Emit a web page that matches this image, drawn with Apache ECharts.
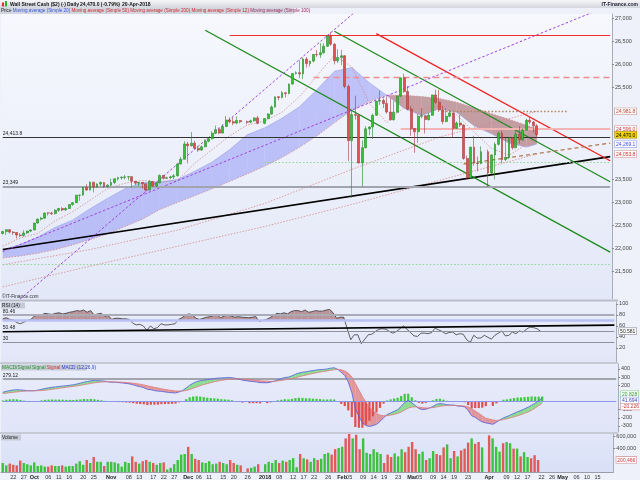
<!DOCTYPE html>
<html><head><meta charset="utf-8"><title>Wall Street Cash</title>
<script src="https://cdn.jsdelivr.net/npm/echarts@6.0.0/dist/echarts.min.js"></script>
<style>html,body{margin:0;padding:0;background:#fff;}#chart{width:640px;height:480px;}</style>
</head><body><div id="chart"></div>
<script>
// ================= DATA =================
const startDate = '2017-09-19';
const endDate = '2018-05-21';

// daily OHLC (Sep 19 2017 .. Apr 20 2018, weekdays; null = no session)
const openV = [
22330,22370,22412,22359,22349,22296,22284,22340,22381,
22405,22557,22641,22661,22775,22773,22761,22831,22872,22841,22871,22957,22997,23158,23163,23329,23274,23442,23330,23401,23434,23349,
23377,23436,23517,23539,23548,23557,23563,23462,23422,23439,23409,23271,23458,23358,23430,23590,23526,23540,23558,23580,23836,23940,
24272,24231,24290,24180,24140,24211,24329,24387,24504,24585,24509,24651,24792,24754,24726,24782,null,24754,24746,24774,24838,
null,24719,24824,24922,25075,25295,25283,25385,25369,25574,25803,25820,25792,26115,26017,26071,26214,26210,26252,26392,26616,26439,26076,
26149,26186,25520,24346,24912,24893,23860,24190,24601,24640,24893,25200,25219,25150,24964,24798,24962,25310,25709,25410,
25029,24608,24538,24874,24884,24801,24895,25336,25179,25008,24759,24873,24946,24611,24727,24683,23958,23533,24203,23857,23849,null,
24103,23644,24034,24264,24505,23933,23979,24408,24189,24483,24360,24573,24787,24748,24665];
const closeV = [
22370,22412,22359,22349,22296,22284,22340,22381,22405,
22557,22641,22661,22775,22773,22761,22831,22872,22841,22871,22957,22997,23158,23163,23329,23274,23442,23330,23401,23434,23349,23377,
23436,23517,23539,23548,23557,23563,23462,23422,23439,23409,23271,23458,23358,23430,23590,23526,23540,23558,23580,23836,23940,24272,
24231,24290,24180,24140,24211,24329,24387,24504,24585,24509,24651,24792,24754,24726,24782,24754,null,24746,24774,24838,24719,
null,24824,24922,25075,25295,25283,25385,25369,25574,25803,25820,25792,26115,26017,26071,26214,26210,26252,26392,26616,26439,26076,26149,
26186,25520,24346,24912,24893,23860,24190,24601,24640,24893,25200,25219,25150,24964,24798,24962,25310,25709,25410,25029,
24608,24538,24874,24884,24801,24895,25336,25179,25008,24759,24873,24946,24611,24727,24683,23958,23533,24203,23857,23849,24103,null,
23644,24034,24264,24505,23933,23979,24408,24189,24483,24360,24573,24787,24748,24665,24470];
const lowV = [
22310,22300,22330,22300,22220,22250,22260,22320,22360,
22400,22540,22610,22650,22720,22730,22740,22800,22810,22820,22860,22930,22990,23040,23150,23250,23260,23220,23320,23360,23320,23330,
23360,23400,23480,23500,23500,23480,23320,23380,23360,23300,23240,23270,23340,23340,23420,23500,23510,23510,23510,23570,23830,23940,
23850,24220,24160,24100,24120,24200,24310,24370,24490,24490,24500,24640,24720,24680,24700,24720,null,24700,24720,24760,24700,
null,24700,24810,24910,25060,25220,25260,25280,25350,25560,25780,25700,25680,25930,25950,26040,26160,26140,26230,26380,26400,26000,26030,
25980,25480,23900,23100,24800,23850,23350,24180,24460,24380,24880,25120,25050,24930,24780,24780,24950,25300,25380,25000,
24450,24080,24300,24830,24500,24780,24880,25140,24970,24700,24740,24850,24400,24600,24640,23930,23500,23520,23800,23680,23830,null,
23340,23620,23500,24240,23860,23900,23950,24150,24180,24280,24340,24560,24700,24520,24400];
const highV = [
22390,22420,22420,22380,22360,22340,22400,22390,22420,
22560,22650,22690,22780,22790,22800,22860,22880,22900,22900,22960,23010,23170,23170,23340,23400,23460,23450,23420,23460,23450,23400,
23520,23520,23560,23570,23600,23570,23570,23470,23450,23440,23410,23490,23470,23440,23610,23600,23560,23580,23620,23840,23990,24330,
24320,24530,24340,24230,24240,24370,24400,24550,24670,24630,24700,24880,24850,24850,24870,24790,null,24780,24800,24850,24880,
null,24830,24940,25110,25300,25310,25420,25390,25580,25810,25850,26090,26150,26160,26080,26220,26310,26460,26460,26640,26700,26460,26330,
26310,26200,25560,25000,25320,24910,24350,24660,24660,24930,25210,25430,25260,25300,25260,25200,25320,25710,25800,25530,
25100,24620,24920,25050,24890,24950,25340,25450,25450,25100,25040,25000,24950,24760,24900,24700,24020,24210,24450,24000,24220,null,
24150,24040,24310,24540,24560,24400,24430,24420,24550,24660,24610,24820,24860,24770,24700];
const volumeV = [
150000,110000,140000,120000,110000,190000,150000,130000,110000,
160000,100000,110000,90000,90000,110000,100000,100000,110000,90000,100000,100000,140000,180000,120000,200000,150000,250000,170000,170000,100000,170000,
170000,160000,140000,90000,170000,150000,260000,170000,140000,180000,200000,170000,150000,120000,150000,160000,40000,70000,130000,200000,290000,300000,
420000,300000,220000,200000,160000,150000,180000,130000,140000,170000,150000,130000,200000,150000,120000,110000,null,60000,70000,90000,130000,
null,130000,170000,150000,200000,150000,190000,170000,200000,230000,80000,300000,230000,210000,170000,230000,200000,220000,300000,320000,290000,380000,400000,
420000,560000,650000,560000,620000,380000,560000,320000,300000,380000,330000,300000,150000,290000,250000,310000,260000,380000,330000,420000,
500000,380000,300000,340000,200000,230000,350000,300000,280000,410000,460000,230000,350000,260000,360000,390000,490000,560000,470000,500000,410000,null,
610000,560000,420000,340000,480000,500000,480000,390000,390000,260000,330000,250000,230000,280000,200466];

// indicators
const rsiV = [
73,75,72,71,66,64,67,70,72,
78,80,80,83,82,81,83,84,82,83,85,86,88,87,89,85,88,80,82,83,78,79,
72,74,74,73,73,72,65,62,63,60,52,60,55,57,64,62,62,63,64,72,75,80,
82,80,74,72,74,76,77,79,80,75,78,80,78,76,77,76,null,75,76,77,68,
null,72,75,79,83,82,84,82,86,88,88,86,89,85,86,88,87,87,89,90,84,74,76,
76,55,35,44,44,28,36,44,45,50,54,55,54,50,47,50,55,60,54,48,
42,41,47,47,46,48,56,53,50,46,48,49,44,46,45,35,30,43,38,38,43,null,
36,43,47,51,42,43,49,46,51,49,54,58,57,55,50.581];
const macdV = [
113,125,135,142,145,143,138,134,132,
133,140,150,160,168,175,180,186,190,195,200,205,215,225,238,245,255,258,256,254,250,240,
238,236,232,228,222,216,205,192,182,170,150,145,135,128,125,118,112,108,105,118,135,165,
200,225,245,255,262,268,275,282,288,290,292,295,292,285,275,262,null,250,245,240,232,
null,230,238,250,268,280,295,300,315,335,350,360,365,375,380,388,392,395,400,410,415,395,360,
320,240,110,-90,-180,-260,-295,-305,-295,-280,-245,-200,-160,-140,-120,-100,-60,-10,15,-15,
-50,-85,-100,-95,-80,-60,-35,-25,-30,-40,-42,-43,-55,-58,-65,-110,-175,-195,-225,-250,-262,null,
-280,-255,-225,-200,-185,-165,-145,-125,-110,-90,-70,-45,-20,10,41.694];
const signalV = [
100,103,108,113,118,123,127,130,131,
132,133,135,139,144,150,156,162,168,174,180,186,192,199,207,215,223,230,235,239,242,243,
242,241,239,237,234,230,225,219,212,204,193,184,174,165,157,149,142,136,130,128,129,136,
148,163,179,194,208,220,232,243,252,260,266,272,276,278,278,275,null,270,265,260,254,
null,250,248,249,253,258,266,273,282,293,304,315,325,335,345,354,362,369,375,383,390,393,390,
376,349,301,223,142,62,-10,-69,-114,-147,-167,-174,-174,-167,-157,-146,-129,-105,-81,-68,
-65,-69,-75,-79,-79,-75,-67,-59,-53,-50,-49,-48,-50,-52,-56,-66,-90,-115,-145,-175,-205,null,
-226,-232,-230,-222,-212,-200,-188,-175,-160,-145,-128,-108,-80,-50,-20.226];

// moving averages (read weekly)
const maDates = ['2017-09-19','2017-09-26','2017-10-03','2017-10-10','2017-10-17','2017-10-24','2017-10-31','2017-11-07','2017-11-14','2017-11-21','2017-11-28','2017-12-05','2017-12-12','2017-12-19','2017-12-26','2018-01-02','2018-01-09','2018-01-16','2018-01-23','2018-01-30','2018-02-06','2018-02-13','2018-02-20','2018-02-27','2018-03-06','2018-03-13','2018-03-20','2018-03-27','2018-04-03','2018-04-10','2018-04-17','2018-04-20'];
const ma12Vals = [22054,22230,22330,22600,22800,23050,23300,23420,23480,23440,23480,23850,24150,24450,24680,24770,24960,25300,25750,26200,25943,25151,24739,25071,25020,25106,24908,24528,24179,24026,24263,24424];
const ma20Vals = [21973,22090,22250,22460,22618,22864,23090,23300,23430,23450,23500,23680,23880,24150,24470,24620,24830,25080,25450,25850,25930,25600,25325,25046,24887,25038,24963,24665,24494,24294,24204,24269.1];
const ma50Vals = [21800,21840,21900,21980,22080,22200,22320,22480,22640,22850,23000,23150,23300,23460,23620,23790,23980,24200,24450,24730,25000,25200,25330,25330,25300,25260,25180,25060,24930,24810,24680,24596.0];
const maLongDates = ['2017-09-19','2017-10-24','2017-11-28','2018-01-02','2018-02-06','2018-03-13','2018-04-20'];
const ma100Vals = [21650,21980,22400,22980,23720,24420,24981.8];
const ma200Vals = [21170,21620,22050,22480,22960,23480,24053.8];

// drawn trend lines: [fromDate, fromPrice, toDate, toPrice]
const supportLine   = ['2017-09-19',21982,'2018-05-21',23996];
const channelGreen1 = ['2017-12-08',26740,'2018-05-21',21925];
const channelGreen2 = ['2018-01-30',26718,'2018-05-21',23451];
const resistRed     = ['2018-02-15',26668,'2018-05-21',23907];
const purpleLine1   = ['2017-09-19',21936,'2018-05-21',27285];
const purpleLine2   = ['2017-09-21',20712,'2018-02-07',27145];
const brownLine     = ['2018-03-22',23837,'2018-05-21',24291];
const rsiTrend      = ['2017-09-19',49.5,'2018-05-21',61.5];

// horizontal levels
const levelValues = [26638, 25711, 24413.8, 23349, 24596, 23874, 21660, 24981.8];
const levelStarts = ['2017-12-19','2018-01-22','2017-09-19','2017-09-19','2018-02-26','2018-01-02','2017-09-19','2018-03-14'];
const levelEnds   = ['2018-05-21','2018-05-21','2018-05-21','2018-05-21','2018-05-21','2018-05-21','2018-05-21','2018-05-03'];
const levelTexts  = ['', '', '24,413.8', '23,349', '', '', '', ''];
const rsiLevels = [80.46, 70, 50.48, 30];
const rsiLevelTexts = ['80.46','','50.48','30'];
const macdLevel = 279.12;

// axis ticks and value boxes
const priceTicks = [21500,22000,22500,23000,23500,25500,26000,26500,27000];
const priceBoxValues = [24981.8, 24596.0, 24470.0, 24269.1, 24053.8];
const rsiTicks = [20,40,60,80,100];
const rsiBoxValue = 50.581;
const macdTicks = [-300,-200,-100,200,300,400];
const macdBoxValues = [20.828, 41.694, -20.226];
const volTicks = [400000, 600000];
const volBoxValue = 200466;

const xTickLabels = [['2017-09-22','22'],['2017-09-27','27'],['2017-10-02','Oct'],['2017-10-06','06'],['2017-10-11','11'],['2017-10-16','16'],['2017-10-20','20'],['2017-10-25','25'],['2017-11-01','Nov'],['2017-11-08','08'],['2017-11-13','13'],['2017-11-17','17'],['2017-11-22','22'],['2017-11-27','27'],['2017-12-01','Dec'],['2017-12-06','06'],['2017-12-11','11'],['2017-12-15','15'],['2017-12-20','20'],['2017-12-26','26'],['2018-01-02','2018'],['2018-01-08','08'],['2018-01-12','12'],['2018-01-17','17'],['2018-01-22','22'],['2018-01-26','26'],['2018-02-01','Feb'],['2018-02-05','05'],['2018-02-09','09'],['2018-02-14','14'],['2018-02-19','19'],['2018-02-23','23'],['2018-03-01','Mar'],['2018-03-05','05'],['2018-03-09','09'],['2018-03-14','14'],['2018-03-19','19'],['2018-03-23','23'],['2018-04-02','Apr'],['2018-04-09','09'],['2018-04-12','12'],['2018-04-17','17'],['2018-04-23','22'],['2018-04-26','26'],['2018-05-01','May'],['2018-05-07','06'],['2018-05-10','10'],['2018-05-15','15']];

// ================= BUILD =================
const categories = [];
for (let t = Date.parse(startDate + 'T00:00:00Z'); t <= Date.parse(endDate + 'T00:00:00Z'); t += 86400000) {
  const d = new Date(t), w = d.getUTCDay();
  if (w !== 0 && w !== 6) categories.push(d.toISOString().slice(0, 10));
}
const idxOf = d => categories.indexOf(d);
const labelMap = {}; xTickLabels.forEach(p => labelMap[p[0]] = p[1]);
const monthNames = ['Oct','Nov','Dec','2018','Feb','Mar','Apr','May'];

const FONT = 'Liberation Sans';
const UP = '#3cc23c', DOWN = '#e05a5a';
const fmtInt = v => Math.round(v).toLocaleString('en-US');
const fmt1 = v => v.toLocaleString('en-US', {minimumFractionDigits: 1, maximumFractionDigits: 1});
const near = (a, b) => Math.abs(a - b) < 1e-6;

const candleData = openV.map((o, i) => o == null ? ['-','-','-','-'] : [o, closeV[i], lowV[i], highV[i]]);
const isUp = i => closeV[i] != null && closeV[i] >= openV[i];
const volData = volumeV.map((v, i) => v == null ? '-' : {value: v, itemStyle: {color: isUp(i) ? UP : DOWN}});
const histData = macdV.map((m, i) => m == null ? '-' : {value: m - signalV[i], itemStyle: {color: (m - signalV[i]) >= 0 ? '#3cc83c' : '#e04e4e'}});

function bandSeries(grid, xs, a, b, pos, neg, onlyPos, z) {
  const data = xs.slice(0, -1).map((x, k) => [x, a[k]]);
  return {
    type: 'custom', xAxisIndex: grid, yAxisIndex: grid, data, z, silent: true, clip: true,
    renderItem: function (params, api) {
      const k = params.dataIndex;
      const bv0 = Array.isArray(b) ? b[k] : b, bv1 = Array.isArray(b) ? b[k + 1] : b;
      const A0 = api.coord([xs[k], a[k]]), A1 = api.coord([xs[k + 1], a[k + 1]]);
      const B0 = api.coord([xs[k], bv0]), B1 = api.coord([xs[k + 1], bv1]);
      const d0 = a[k] - bv0, d1 = a[k + 1] - bv1;
      const children = [];
      const poly = (pts, isPos) => {
        if (onlyPos && !isPos) return;
        children.push({type: 'polygon', shape: {points: pts}, style: {fill: isPos ? pos : neg}});
      };
      if ((d0 >= 0 && d1 >= 0) || (d0 <= 0 && d1 <= 0)) {
        poly([A0, A1, B1, B0], d0 + d1 >= 0);
      } else {
        const t = d0 / (d0 - d1);
        const P = [A0[0] + (A1[0] - A0[0]) * t, A0[1] + (A1[1] - A0[1]) * t];
        poly([A0, P, B0], d0 > 0);
        poly([P, A1, B1], d1 > 0);
      }
      return {type: 'group', children};
    }
  };
}
function nonNull(arr) {
  const xs = [], vs = [];
  arr.forEach((v, i) => { if (v != null) { xs.push(i); vs.push(v); } });
  return {xs, vs};
}
function seg(grid, L, color, width, type, z) {
  return {type: 'line', xAxisIndex: grid, yAxisIndex: grid, data: [[L[0], L[1]], [L[2], L[3]]],
    symbol: 'none', silent: true, clip: true, z: z || 4, lineStyle: {color, width, type: type || 'solid'}};
}
function maLine(dates, vals, color, width, type, z) {
  return {type: 'line', xAxisIndex: 0, yAxisIndex: 0, data: dates.map((d, i) => [d, vals[i]]),
    symbol: 'none', silent: true, clip: true, z: z || 3, lineStyle: {color, width, type}};
}

// level styles
const levelStyles = [
  {color: '#ee3030', width: 1, type: 'solid'},
  {color: '#f08c8c', width: 1.3, type: [6, 4]},
  {color: '#333333', width: 1.2, type: 'solid'},
  {color: '#a2a5ae', width: 2.2, type: 'solid'},
  {color: '#f5b4b4', width: 2, type: 'solid'},
  {color: '#92d492', width: 1, type: [1.5, 2]},
  {color: '#92d492', width: 1, type: [1.5, 2]},
  {color: '#b0805a', width: 1.3, type: [1.5, 2]}
];
const levelMarks = levelValues.map((v, i) => [
  {coord: [levelStarts[i], v], lineStyle: levelStyles[i],
   label: {show: !!levelTexts[i], formatter: levelTexts[i], position: 'insideStartTop', distance: [0, 1], fontSize: 5, fontFamily: FONT, color: '#222'}},
  {coord: [levelEnds[i], v]}
]);

const rsiStyles = [
  {color: '#a9acb6', width: 2, type: 'solid'},
  {color: '#b9c0f4', width: 2.5, type: 'solid'},
  {color: '#8e929c', width: 1.2, type: 'solid'},
  {color: '#8e929c', width: 1.2, type: 'solid'}
];
const rsiMarks = rsiLevels.map((v, i) => [
  {coord: [categories[0], v], lineStyle: rsiStyles[i],
   label: {show: !!rsiLevelTexts[i], formatter: rsiLevelTexts[i], position: 'insideStartTop', distance: [0, 1], fontSize: 5, fontFamily: FONT, color: '#222'}},
  {coord: [categories[categories.length - 1], v]}
]);

const maBandXs = maDates.map(idxOf);
const rsiNN = nonNull(rsiV);
const macdNN = nonNull(macdV);
const sigNN = nonNull(signalV);

// right-axis label formatters
const boxRich = (color, border, bg) => ({color, borderColor: border, borderWidth: 0.6, backgroundColor: bg || '#ffffff', padding: [1, 1, 0, 1], fontSize: 5, fontFamily: FONT});
const tickRich = {color: '#444', fontSize: 5.5, fontFamily: FONT};
const priceBoxStyles = [boxRich('#b84030', '#c09080'), boxRich('#d03030', '#d09090'), boxRich('#000', '#a89000', '#f2d400'), boxRich('#3a4cd8', '#9aa4e8'), boxRich('#d03030', '#d09090')];
const priceRich = {t: tickRich}; priceBoxStyles.forEach((s, k) => priceRich['b' + k] = s);

function yAxisBase(grid, min, max, ticks, extra, fmt, rich) {
  return {
    type: 'value', gridIndex: grid, position: 'right', min, max,
    axisLine: {show: true, lineStyle: {color: '#a8acb8', width: 1}},
    axisTick: {show: true, length: 2, lineStyle: {color: '#888'}, customValues: ticks},
    splitLine: {show: false},
    axisLabel: {show: true, margin: 3, customValues: ticks.concat(extra), formatter: fmt, rich, fontSize: 5.5, fontFamily: FONT, color: '#444'}
  };
}

const gridBg = (c1, c2) => ({type: 'linear', x: 0, y: 0, x2: 0, y2: 1, colorStops: [{offset: 0, color: c1}, {offset: 1, color: c2}]});
const xAxisBase = (grid, showLabels) => ({
  type: 'category', gridIndex: grid, data: categories, boundaryGap: true,
  axisLine: {show: showLabels, lineStyle: {color: '#9a9eaa'}}, axisTick: {show: false}, splitLine: {show: false},
  axisLabel: showLabels ? {
    show: true, margin: 2, fontSize: 5.5, fontFamily: FONT, color: '#333',
    interval: (i, v) => labelMap[v] !== undefined,
    formatter: v => monthNames.includes(labelMap[v]) ? '{m|' + labelMap[v] + '}' : (labelMap[v] || ''),
    rich: {m: {fontWeight: 'bold', fontSize: 5.5, fontFamily: FONT, color: '#222'}}
  } : {show: false}
});

const option = {
  animation: false,
  backgroundColor: '#eef1fa',
  grid: [
    {left: 1, right: 22, top: 14, height: 285, show: true, borderWidth: 0, backgroundColor: gridBg('#f6f8fd', '#e3e8f8')},
    {left: 1, right: 22, top: 302, height: 60, show: true, borderWidth: 0, backgroundColor: gridBg('#eaedfa', '#e2e7f8')},
    {left: 1, right: 22, top: 364, height: 68, show: true, borderWidth: 0, backgroundColor: gridBg('#e8ecfa', '#e0e5f8')},
    {left: 1, right: 22, top: 434, height: 38, show: true, borderWidth: 0, backgroundColor: gridBg('#e2e7f9', '#d9e0f7')}
  ],
  xAxis: [xAxisBase(0, false), xAxisBase(1, false), xAxisBase(2, false), xAxisBase(3, true)],
  yAxis: [
    yAxisBase(0, 20907, 27093, priceTicks, priceBoxValues, v => {
      const k = priceBoxValues.findIndex(b => near(b, v));
      return k >= 0 ? '{b' + k + '|' + fmt1(v) + '}' : '{t|' + fmtInt(v) + '}';
    }, priceRich),
    yAxisBase(1, -5.5, 103.6, rsiTicks, [rsiBoxValue], v => near(v, rsiBoxValue) ? '{b|' + v.toFixed(3) + '}' : '{t|' + v + '}',
      {t: tickRich, b: boxRich('#222', '#8a8e98')}),
    yAxisBase(2, -374, 461, macdTicks, [], v => '{t|' + v + '}', {t: tickRich}),
    yAxisBase(3, 0, 633333, volTicks, [volBoxValue], v => near(v, volBoxValue) ? '{b|' + fmtInt(v) + '}' : '{t|' + fmtInt(v) + '}',
      {t: tickRich, b: boxRich('#d03030', '#d09090')})
  ],
  series: [
    // ---- price panel ----
    bandSeries(0, maBandXs, ma20Vals, ma50Vals, 'rgba(148,153,245,0.55)', 'rgba(160,88,90,0.55)', false, 1),
    maLine(maDates, ma20Vals, '#9a9ee8', 0.6, 'solid', 2),
    maLine(maDates, ma50Vals, '#d08c8c', 0.8, [1.5, 1.5], 2),
    maLine(maDates, ma12Vals, '#d48a8a', 0.8, [1.5, 1.5], 2),
    maLine(maLongDates, ma100Vals, '#d48a8a', 0.8, [1.5, 1.5], 2),
    maLine(maLongDates, ma200Vals, '#d48a8a', 0.8, [1.5, 1.5], 2),
    seg(0, supportLine, '#000000', 1.7),
    seg(0, channelGreen1, '#1d8a1d', 1.3),
    seg(0, channelGreen2, '#1d8a1d', 1.3),
    seg(0, resistRed, '#ee2020', 1.3),
    seg(0, purpleLine1, '#a043e0', 1, [2.5, 2]),
    seg(0, purpleLine2, '#a043e0', 1, [2.5, 2]),
    seg(0, brownLine, '#b07a50', 1.3, [4, 3]),
    {
      type: 'candlestick', xAxisIndex: 0, yAxisIndex: 0, data: candleData, barWidth: 2.4, z: 6,
      itemStyle: {color: '#38bf38', color0: '#e05050', borderColor: '#238a23', borderColor0: '#a83a3a', borderWidth: 0.6},
      markLine: {symbol: ['none', 'none'], silent: true, animation: false, data: levelMarks}
    },
    // ---- RSI panel ----
    bandSeries(1, rsiNN.xs, rsiNN.vs, 70, 'rgba(160,100,100,0.65)', 'rgba(0,0,0,0)', true, 2),
    {
      type: 'line', xAxisIndex: 1, yAxisIndex: 1, data: rsiV, connectNulls: true, symbol: 'none', silent: true, z: 4,
      lineStyle: {color: '#222', width: 0.7},
      markLine: {symbol: ['none', 'none'], silent: true, animation: false, data: rsiMarks}
    },
    seg(1, rsiTrend, '#000', 1.6, 'solid', 5),
    // ---- MACD panel ----
    bandSeries(2, macdNN.xs, macdNN.vs, sigNN.vs, 'rgba(110,215,110,0.75)', 'rgba(225,115,115,0.7)', false, 2),
    {
      type: 'bar', xAxisIndex: 2, yAxisIndex: 2, data: histData, barWidth: 2.2, z: 3, silent: true,
      markLine: {symbol: ['none', 'none'], silent: true, animation: false, data: [
        [{coord: [categories[0], macdLevel], lineStyle: {color: '#a2a5ae', width: 2, type: 'solid'},
          label: {show: true, formatter: '279.12', position: 'insideStartTop', distance: [0, 1], fontSize: 5, fontFamily: FONT, color: '#222'}},
         {coord: [categories[categories.length - 1], macdLevel]}],
        [{coord: [categories[0], 0], lineStyle: {color: '#8b96ec', width: 1.2, type: 'solid'}, label: {show: false}},
         {coord: [categories[categories.length - 1], 0]}]
      ]}
    },
    {type: 'line', xAxisIndex: 2, yAxisIndex: 2, data: macdV, connectNulls: true, symbol: 'none', silent: true, z: 5, lineStyle: {color: '#4f5fe0', width: 0.8}},
    {type: 'line', xAxisIndex: 2, yAxisIndex: 2, data: signalV, connectNulls: true, symbol: 'none', silent: true, z: 5, lineStyle: {color: '#e07a7a', width: 0.8}},
    // ---- Volume panel ----
    {type: 'bar', xAxisIndex: 3, yAxisIndex: 3, data: volData, barWidth: 2.4, silent: true, z: 3}
  ],
  graphic: [
    {id: 'hdrbg', type: 'rect', z: 100, shape: {x: 0, y: 0, width: 640, height: 8}, style: {fill: gridBg('#f6f6f8', '#d3d6de')}},
    {id: 'ic1', type: 'rect', z: 101, shape: {x: 2, y: 2.5, width: 2, height: 4}, style: {fill: '#d83030'}},
    {id: 'ic2', type: 'rect', z: 101, shape: {x: 5, y: 1, width: 2, height: 5.5}, style: {fill: '#30b030'}},
    {id: 'h1', type: 'text', z: 101, x: 10, y: 4.5, style: {text: 'Wall Street Cash ($2) (-)', font: 'bold 5px ' + FONT, fill: '#111', textVerticalAlign: 'middle'}},
    {id: 'h2', type: 'text', z: 101, x: 67, y: 4.5, style: {text: 'Daily', font: 'bold 5px ' + FONT, fill: '#111', textVerticalAlign: 'middle'}},
    {id: 'h3', type: 'text', z: 101, x: 80, y: 4.5, style: {text: '24,470.0 (-0.79%)', font: 'bold 5px ' + FONT, fill: '#111', textVerticalAlign: 'middle'}},
    {id: 'h4', type: 'text', z: 101, x: 122, y: 4.5, style: {text: '20-Apr-2018', font: 'bold 5px ' + FONT, fill: '#111', textVerticalAlign: 'middle'}},
    {id: 'h5', type: 'text', z: 101, x: 638, y: 4.5, style: {text: 'IT-Finance.com', font: 'bold 5px ' + FONT, fill: '#223', textAlign: 'right', textVerticalAlign: 'middle'}},
    {id: 'lgbg', type: 'rect', z: 100, shape: {x: 0, y: 8, width: 294, height: 6}, style: {fill: '#d2d6e0'}},
    {id: 'lg', type: 'text', z: 101, x: 1, y: 11, style: {
      text: '{k|Price }{b|Moving average (Simple 20) }{r|Moving average (Simple 50) }{r|Moving average (Simple 200) }{r|Moving average (Simple 12) }{p|Moving average (Simple 100)}',
      textVerticalAlign: 'middle',
      rich: {k: {fill: '#222', font: '4.6px ' + FONT}, b: {fill: '#3a55e0', font: '4.6px ' + FONT}, r: {fill: '#cc2a2a', font: '4.6px ' + FONT}, p: {fill: '#a02a5a', font: '4.6px ' + FONT}}}},
    {id: 'cp', type: 'text', z: 101, x: 2, y: 296.5, style: {text: '\u00a9IT-Finance.com', font: '4.8px ' + FONT, fill: '#333', textVerticalAlign: 'middle'}},
    {id: 's1', type: 'rect', z: 90, shape: {x: 0, y: 299.5, width: 618, height: 2}, style: {fill: '#b8bcc8'}},
    {id: 's2', type: 'rect', z: 90, shape: {x: 0, y: 362.2, width: 618, height: 1.6}, style: {fill: '#b8bcc8'}},
    {id: 's3', type: 'rect', z: 90, shape: {x: 0, y: 432.2, width: 618, height: 1.6}, style: {fill: '#b8bcc8'}},
    {id: 'rsibg', type: 'rect', z: 100, shape: {x: 1, y: 302.5, width: 24, height: 6}, style: {fill: '#c6cad6'}},
    {id: 'rsit', type: 'text', z: 101, x: 2, y: 305.5, style: {text: 'RSI (14)', font: '4.8px ' + FONT, fill: '#222', textVerticalAlign: 'middle'}},
    {id: 'macdbg', type: 'rect', z: 100, shape: {x: 1, y: 364.5, width: 86, height: 6}, style: {fill: '#c6cad6'}},
    {id: 'macdt', type: 'text', z: 101, x: 2, y: 367.5, style: {
      text: '{g|MACD/Signal Signal }{r|Signal }{b|MACD (12,26,9)}', textVerticalAlign: 'middle',
      rich: {g: {fill: '#2a9a2a', font: '4.8px ' + FONT}, r: {fill: '#cc3a3a', font: '4.8px ' + FONT}, b: {fill: '#3344cc', font: '4.8px ' + FONT}}}},
    {id: 'volbg', type: 'rect', z: 100, shape: {x: 1, y: 434.5, width: 20, height: 6}, style: {fill: '#c6cad6'}},
    {id: 'volt', type: 'text', z: 101, x: 2, y: 437.5, style: {text: 'Volume', font: '4.8px ' + FONT, fill: '#222', textVerticalAlign: 'middle'}}
  ]
};

const chart = echarts.init(document.getElementById('chart'), null, {renderer: 'canvas'});
chart.setOption(option);

// MACD value boxes on the right axis, spread so they stay readable
const boxColors = [['#2a9a2a', '#8ccf8c'], ['#3344cc', '#9aa4e8'], ['#cc3333', '#d09090']];
const ys = macdBoxValues.map(v => chart.convertToPixel({yAxisIndex: 2}, v));
const meanY = ys.reduce((a, b) => a + b, 0) / ys.length;
chart.setOption({graphic: macdBoxValues.map((v, k) => ({
  id: 'mb' + k, type: 'text', z: 120, x: 621, y: meanY + (k - 1) * 6.2,
  style: {text: v.toFixed(3), font: '5px ' + FONT, fill: boxColors[k][0], backgroundColor: '#fff',
    borderColor: boxColors[k][1], borderWidth: 0.6, padding: [1, 1, 0, 1], textVerticalAlign: 'middle'}
}))});
</script></body></html>
